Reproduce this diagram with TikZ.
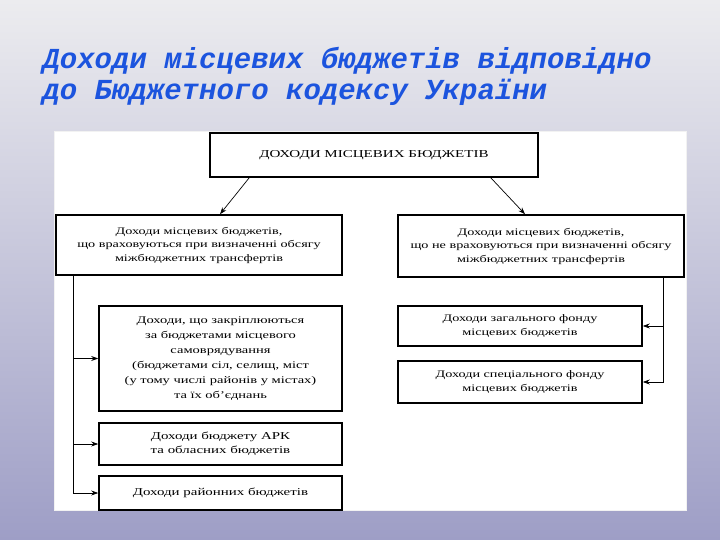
\documentclass[tikz,border=0pt]{standalone}
\usepackage{fontspec}
\setmainfont{Liberation Serif}
\newfontfamily\diagfont[FakeStretch=1.42]{Liberation Serif}
\newfontfamily\titlefont{Liberation Mono}
\usepackage{xcolor}
\usetikzlibrary{arrows.meta}

\definecolor{titleblue}{RGB}{28,84,222}
\definecolor{bgtop}{RGB}{236,236,239}
\definecolor{bgmid}{RGB}{210,210,222}
\definecolor{bgbot}{RGB}{158,158,198}

\tikzset{
  box/.style={draw, line width=1.6pt, fill=white, align=center, inner sep=0pt,
    font=\diagfont\fontsize{10}{13.5}\selectfont},
  conn/.style={line width=0.7pt, -{Stealth[length=7pt,width=5pt]}}
}

\begin{document}
\begin{tikzpicture}[x=1pt,y=-1pt]
            % background of the slide
            \shade[top color=bgtop, middle color=bgmid, bottom color=bgbot] (0,0) rectangle (720,540);
            \useasboundingbox (0,0) rectangle (720,540);
            \draw[white!90!gray, fill=white] (54,131) rectangle (686,510);

            \node[anchor=north west, align=left, text=titleblue,
                  font=\titlefont\bfseries\itshape\fontsize{29}{31}\selectfont] (title) at (39,44)
                  {Доходи місцевих бюджетів відповідно\\до Бюджетного кодексу України};

            \node[box, minimum width=328, minimum height=44, font=\diagfont\fontsize{10.6}{13.5}\selectfont] (top) at (374,155) {ДОХОДИ МІСЦЕВИХ БЮДЖЕТІВ};

            \node[box, minimum width=286, minimum height=60] (left) at (199,245)
                  {Доходи місцевих бюджетів,\\що враховуються при визначенні обсягу\\міжбюджетних трансфертів};
            \node[box, minimum width=286, minimum height=62] (right) at (541,246)
                  {Доходи місцевих бюджетів,\\що не враховуються при визначенні обсягу\\міжбюджетних трансфертів};

            \node[box, minimum width=243, minimum height=105, font=\diagfont\fontsize{10.2}{15}\selectfont] (self) at (220.5,358.5)
                  {Доходи, що закріплюються\\за бюджетами місцевого\\самоврядування\\(бюджетами сіл, селищ, міст\\(у тому числі районів у містах)\\та їх об’єднань};
            \node[box, minimum width=243, minimum height=42, font=\diagfont\fontsize{10.5}{14}\selectfont] (ark) at (220.5,444)
                  {Доходи бюджету АРК\\та обласних бюджетів};
            \node[box, minimum width=243, minimum height=34, font=\diagfont\fontsize{10.5}{14}\selectfont] (district) at (220.5,493)
                  {Доходи районних бюджетів};

            \node[box, minimum width=244, minimum height=40] (general) at (520,326)
                  {Доходи загального фонду\\місцевих бюджетів};
            \node[box, minimum width=244, minimum height=42] (special) at (520,382)
                  {Доходи спеціального фонду\\місцевих бюджетів};

            % arrows from the top box
            \draw[conn] ([xshift=40pt]top.south west) -- ([xshift=21pt]left.north);
            \draw[conn] ([xshift=-48pt]top.south east) -- ([xshift=-16pt]right.north);

            % left branch
            \coordinate (ltrunk) at ([xshift=18pt]left.south west);
            \draw[conn] (ltrunk) |- (district.west);
            \draw[conn] (ltrunk |- self.west) -- (self.west);
            \draw[conn] (ltrunk |- ark.west) -- (ark.west);

            % right branch
            \coordinate (rtrunk) at ([xshift=-21pt]right.south east);
            \draw[conn] (rtrunk) |- (special.east);
            \draw[conn] (rtrunk |- general.east) -- (general.east);
\end{tikzpicture}
\end{document}
